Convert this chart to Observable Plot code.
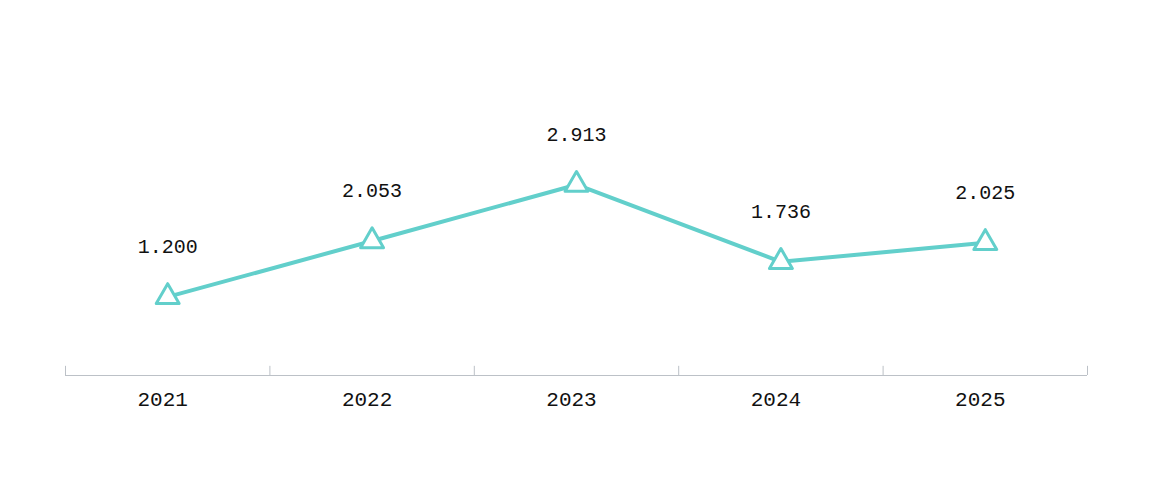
<!DOCTYPE html>
<html>
<head>
<meta charset="utf-8">
<script src="https://cdn.jsdelivr.net/npm/d3@7"></script>
<script src="https://cdn.jsdelivr.net/npm/@observablehq/plot@0.6"></script>
<style>
  html, body { margin: 0; padding: 0; background: #fff; }
  #chart { width: 1150px; height: 496px; }
</style>
</head>
<body>
<div id="chart"></div>
<script>
const years = [2021, 2022, 2023, 2024, 2025];
const values = [1.200, 2.053, 2.913, 1.736, 2.025];
const valueLabels = ["1.200", "2.053", "2.913", "1.736", "2.025"];
const boundaries = [2020.5, 2021.5, 2022.5, 2023.5, 2024.5, 2025.5];

const data = years.map((y, i) => ({year: y, value: values[i], label: valueLabels[i]}));

const lineColor = "#62cfcb";
const axisColor = "#bcc1c7";
const font = "'Liberation Mono', 'DejaVu Sans Mono', monospace";

const chart = Plot.plot({
  width: 1150,
  height: 496,
  marginLeft: 65,
  marginRight: 63,
  marginTop: 113,
  marginBottom: 121,
  style: {fontFamily: font, fontSize: "20px", color: "#111", background: "#fff"},
  x: {domain: [2020.5, 2025.5], axis: null},
  y: {domain: [0, 4], axis: null},
  marks: [
    Plot.ruleY([0], {stroke: axisColor, strokeWidth: 1}),
    Plot.ruleX(boundaries, {x: d => d, y1: 0, y2: 0.14, stroke: axisColor, strokeWidth: 1}),
    Plot.text(years, {x: d => d, y: 0, dy: 24, dx: -5, text: d => String(d), fill: "#111", fontSize: 21}),
    Plot.line(data, {x: "year", y: "value", stroke: lineColor, strokeWidth: 4, curve: "linear"}),
    Plot.dot(data, {x: "year", y: "value", symbol: "triangle", r: 8.5, fill: "#fff", stroke: lineColor, strokeWidth: 3, strokeLinejoin: "round"}),
    Plot.text(data, {x: "year", y: "value", text: "label", dy: -50, fill: "#111", fontSize: 20})
  ]
});
document.getElementById("chart").appendChild(chart);
</script>
</body>
</html>
